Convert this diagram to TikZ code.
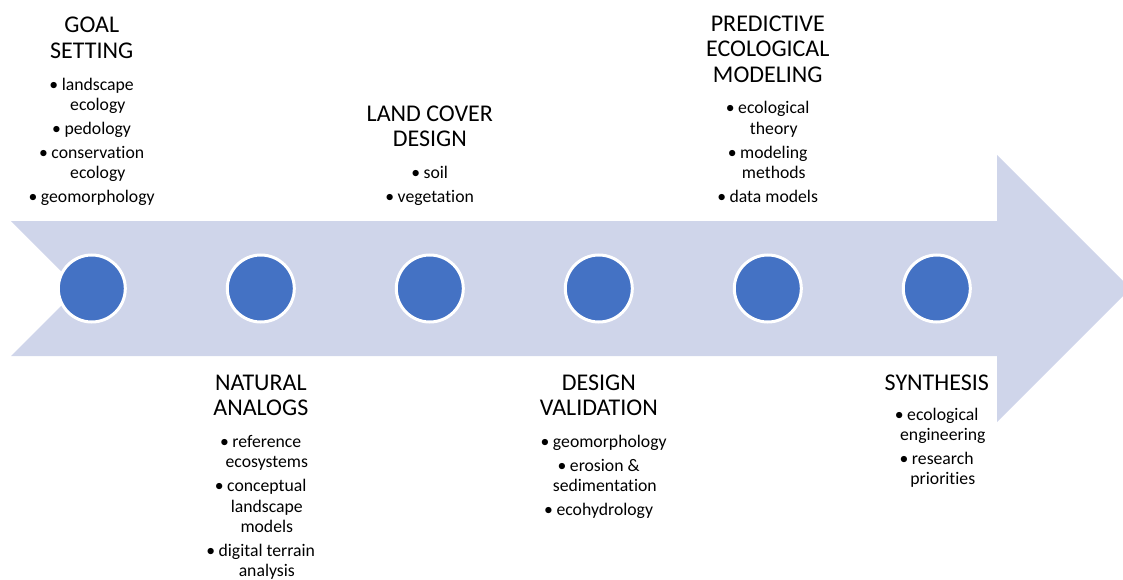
\documentclass[tikz,border=0pt]{standalone}
\usepackage{fontspec}
\setmainfont{Carlito}[Ligatures=NoCommon]

\definecolor{bandfill}{HTML}{CFD5EA}
\definecolor{stagefill}{HTML}{4472C4}

% centred lines in a \vtop, so the box baseline is the first line's baseline
\newcommand\linestack[2]{\vtop{\baselineskip=#1\lineskiplimit=-30pt\lineskip=0pt
  \halign{\hfil##\hfil\cr#2\crcr}}}
% hanging bullet for the first line of an item
\newcommand\bul{\llap{\textbullet\kern3.5pt}}
% step to the next item (slightly larger than the line step)
\newcommand\nextitem{\cr\noalign{\vskip3.3pt}}

\tikzset{
  stage/.style={circle, fill=stagefill, draw=white, line width=3pt,
                minimum size=67pt, inner sep=0pt},
  title/.style={font=\fontsize{24}{25.5}\selectfont, anchor=base, inner sep=0pt},
  items/.style={font=\fontsize{17.7}{20.5}\selectfont, anchor=base, inner sep=0pt},
}

\begin{document}
\begin{tikzpicture}[x=1pt, y=-1pt]
\useasboundingbox (0,0) rectangle (1123,580);

% the broad timeline arrow
\fill[bandfill] (11,221) -- (997,221) -- (997,155) -- (1130.5,288.5)
  -- (997,422) -- (997,356) -- (11,356) -- (78.5,288.5) -- cycle;

% stage markers
\node[stage] (c1) at (91.8,288.5) {};
\node[stage] (c2) at (260.8,288.5) {};
\node[stage] (c3) at (429.8,288.5) {};
\node[stage] (c4) at (598.8,288.5) {};
\node[stage] (c5) at (767.8,288.5) {};
\node[stage] (c6) at (936.8,288.5) {};

% stage 1
\node[title] (t1) at (91.8,32.9) {\linestack{25.5pt}{GOAL\cr SETTING}};
\node[items] (l1) at (97.8,90.1) {\linestack{20.5pt}{%
  \bul landscape\cr ecology\nextitem
  \bul pedology\nextitem
  \bul conservation\cr ecology\nextitem
  \bul geomorphology}};

% stage 2
\node[title] (t2) at (260.8,390) {\linestack{25.5pt}{NATURAL\cr ANALOGS}};
\node[items] (l2) at (266.8,447.2) {\linestack{20.5pt}{%
  \bul reference\cr ecosystems\nextitem
  \bul conceptual\cr landscape\cr models\nextitem
  \bul digital terrain\cr analysis}};

% stage 3
\node[title] (t3) at (429.8,121.5) {\linestack{25.5pt}{LAND COVER\cr DESIGN}};
\node[items] (l3) at (435.8,178.7) {\linestack{20.5pt}{%
  \bul soil\nextitem
  \bul vegetation}};

% stage 4
\node[title] (t4) at (598.8,390) {\linestack{25.5pt}{DESIGN\cr VALIDATION}};
\node[items] (l4) at (604.8,447.2) {\linestack{20.5pt}{%
  \kern10pt\bul geomorphology\nextitem
  \bul erosion \&\cr sedimentation\nextitem
  \bul ecohydrology}};

% stage 5
\node[title] (t5) at (767.8,31.2) {\linestack{25.5pt}{PREDICTIVE\cr ECOLOGICAL\cr MODELING}};
\node[items] (l5) at (773.8,113.9) {\linestack{20.5pt}{%
  \bul ecological\cr theory\nextitem
  \bul modeling\cr methods\nextitem
  \bul data models}};

% stage 6
\node[title] (t6) at (936.8,390) {\linestack{25.5pt}{SYNTHESIS}};
\node[items] (l6) at (942.8,420) {\linestack{20.5pt}{%
  \bul ecological\cr engineering\nextitem
  \bul research\cr priorities}};
\end{tikzpicture}
\end{document}
